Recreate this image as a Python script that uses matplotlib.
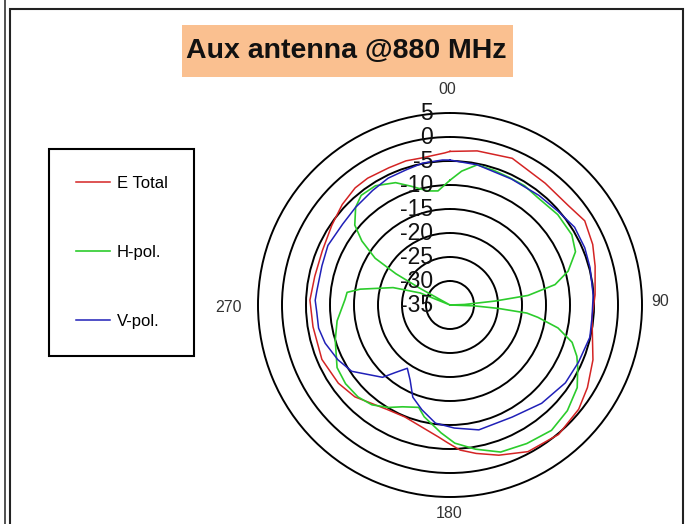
import numpy as np
import matplotlib
matplotlib.use('Agg')
import matplotlib.pyplot as plt
from matplotlib.patches import Rectangle
from matplotlib.lines import Line2D

plt.rcParams['font.family'] = ['Liberation Sans', 'DejaVu Sans']

# angles in degrees, clockwise from top (0 = up); levels in dB
etot_deg = [0, 10, 23, 38, 50, 58, 67, 75, 86, 95, 111, 121, 129, 140, 152, 162, 170,
            176, 181, 185, 193, 202, 211, 226, 235, 247, 261, 272, 282, 293, 304, 313,
            321, 327, 336, 343, 349, 358, 360]
etot_db = [-3.0, -2.4, -1.8, -2.8, -2.8, -1.9, -2.7, -3.7, -4.7, -5.3, -3.1, -1.6, -0.5,
           0.2, -0.4, -2.1, -3.6, -4.7, -6.3, -7.4, -8.9, -9.85, -9.6, -7.45, -6.6, -6.0,
           -6.1, -5.8, -6.2, -6.1, -5.3, -4.3, -3.6, -3.5, -3.7, -3.6, -3.8, -3.3, -3.0]

hpol_deg = [0, 5, 11, 18, 25, 32, 39, 50, 60, 67, 74, 79, 83, 85, 88, 90, 92, 94, 96, 98,
            102, 107, 112, 116, 123, 132, 141, 151, 161, 170, 178, 184, 193, 197, 205, 211,
            218, 225, 233, 241, 253, 262, 273, 277, 280, 287, 292, 296, 299, 300, 302, 306,
            310, 316, 321, 328, 336, 342, 349, 354, 360]
hpol_db = [-9.0, -7.0, -5.25, -5.5, -5.7, -5.7, -6.1, -5.7, -5.7, -6.6, -9.4, -12.7, -18.6,
           -25.6, -32.0, -35.0, -30.0, -25.0, -18.9, -16.5, -12.0, -8.4, -6.5, -5.4, -3.4,
           -2.1, -1.4, -2.0, -2.6, -4.5, -6.2, -8.3, -11.1, -12.7, -11.6, -10.1, -8.6, -7.9,
           -7.75, -8.1, -10.0, -11.25, -13.1, -13.4, -16.0, -22.6, -28.3, -35.0, -28.0,
           -22.0, -16.6, -12.3, -9.1, -6.7, -5.6, -5.7, -7.1, -9.0, -10.8, -11.1, -9.0]

vpol_deg = [0, 11, 26, 39, 49, 58, 67, 75, 86, 95, 103, 114, 124, 137, 151, 167, 178, 187,
            195, 202, 208, 214, 219, 223, 236, 244, 253, 260, 267, 272, 276, 287, 296, 307,
            316, 326, 334, 342, 349, 357, 360]
vpol_db = [-4.8, -5.25, -5.8, -5.6, -5.2, -4.4, -4.5, -4.8, -5.1, -5.3, -5.1, -5.7, -6.0,
           -7.0, -8.3, -8.3, -9.35, -10.2, -12.4, -14.3, -17.3, -19.1, -16.9, -14.4, -10.3,
           -9.0, -7.8, -7.2, -7.2, -6.9, -7.1, -7.1, -6.7, -7.0, -6.7, -6.2, -5.6, -5.4,
           -4.9, -4.75, -4.8]

ring_vals = [-30, -25, -20, -15, -10, -5, 0]
rlabel_vals = [5, 0, -5, -10, -15, -20, -25, -30, -35]
theta_labels = ['00', '90', '180', '270']
theta_label_deg = [0, 90, 180, 270]

W, H = 691, 524
fig = plt.figure(figsize=(W / 100, H / 100), dpi=100)

# chart frame (spreadsheet-style border)
fig.add_artist(Line2D([5 / W, 5 / W], [0, 1], color='#333333', lw=1.2))
fig.add_artist(Rectangle((10 / W, -0.1), 673 / W, 1.1 - 9 / H, transform=fig.transFigure,
                         fill=False, ec='#222222', lw=1.5))

# title box
fig.add_artist(Rectangle((182 / W, 1 - 77 / H), 331 / W, 52 / H, transform=fig.transFigure,
                         fc='#fac090', ec='none'))
fig.text(346 / W, 1 - 51 / H, 'Aux antenna @880 MHz', ha='center', va='center',
         fontsize=20.5, fontweight='bold', color='#111111')

# polar axes: centre (450, 305), radius 192 px
ax = fig.add_axes([258 / W, 1 - 497 / H, 384 / W, 384 / H], projection='polar')
ax.set_theta_zero_location('N')
ax.set_theta_direction(-1)
ax.set_rlim(-35, 5)
ax.set_rgrids(ring_vals)
ax.set_yticklabels([])
ax.set_xticks([])
ax.yaxis.grid(True, color='black', lw=1.4, ls='-')
ax.spines['polar'].set_color('black')
ax.spines['polar'].set_linewidth(1.4)

l1, = ax.plot(np.deg2rad(etot_deg), etot_db, color='#d42424', lw=1.1, label='E Total')
l2, = ax.plot(np.deg2rad(hpol_deg), hpol_db, color='#2ccc2c', lw=1.2, label='H-pol.')
l3, = ax.plot(np.deg2rad(vpol_deg), vpol_db, color='#2020b8', lw=1.1, label='V-pol.')

for v in rlabel_vals:
    ax.annotate(str(v), xy=(0, v), xytext=(-17, 0), textcoords='offset pixels',
                ha='right', va='center', fontsize=16.5, color='#111111',
                annotation_clip=False)

label_offsets = [(-3, 24), (18, 4), (-1, -16), (-29, -2)]
for lbl, deg, off in zip(theta_labels, theta_label_deg, label_offsets):
    ax.annotate(lbl, xy=(np.deg2rad(deg), 5), xytext=off, textcoords='offset pixels',
                ha='center', va='center', fontsize=11.5, color='#333333',
                annotation_clip=False)

leg = fig.legend(handles=[l1, l2, l3], loc='upper left',
                 bbox_to_anchor=(49 / W, 1 - 149 / H), frameon=True, fancybox=False,
                 edgecolor='black', framealpha=1, fontsize=12, handlelength=2.05,
                 handletextpad=0.42, labelspacing=3.25, borderpad=1.6, borderaxespad=0)
leg.get_frame().set_linewidth(1.5)

fig.savefig('out.png', dpi=100)
